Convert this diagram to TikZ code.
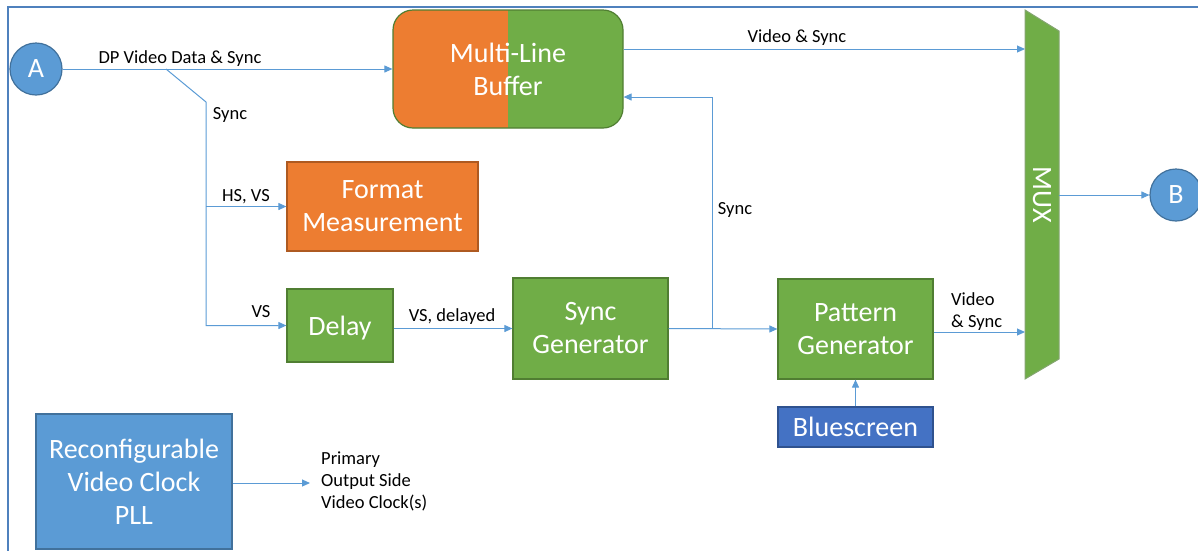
\documentclass[tikz,border=0pt]{standalone}
\usepackage{fontspec}
\setmainfont{Carlito}
\usetikzlibrary{arrows.meta}
\definecolor{cOra}{HTML}{ED7D31}
\definecolor{cOraD}{HTML}{AE5A21}
\definecolor{cGrn}{HTML}{70AD47}
\definecolor{cGrnD}{HTML}{507E32}
\definecolor{cBlu}{HTML}{5B9BD5}
\definecolor{cBluD}{HTML}{41719C}
\definecolor{cDBlu}{HTML}{4472C4}
\definecolor{cDBluD}{HTML}{2F528F}
\definecolor{cLine}{HTML}{5B9BD5}
\definecolor{cFrame}{HTML}{4F81BD}
\begin{document}
\begin{tikzpicture}[x=1pt,y=-1pt,
 big/.style={font=\fontsize{28}{33}\selectfont, text=white, align=center},
 box/.style={big, draw, line width=1.2pt, inner sep=0pt},
 gbox/.style={box, fill=cGrn, draw=cGrnD},
 obox/.style={box, fill=cOra, draw=cOraD},
 bbox/.style={box, fill=cBlu, draw=cBluD},
 dbbox/.style={box, fill=cDBlu, draw=cDBluD},
 circ/.style={big, circle, fill=cBlu, draw=cBluD, line width=1.2pt, minimum size=52pt, inner sep=0pt},
 lbl/.style={font=\fontsize{18.5}{22}\selectfont, text=black, inner sep=0pt},
 wire/.style={draw=cLine, line width=1pt},
 conn/.style={wire, -{Triangle[length=8pt,width=7pt]}},
]
\clip (0,0) rectangle (1198,550);
\draw[cFrame, line width=2.5pt] (8,7) rectangle (1260,600);

% nodes
\node[circ] (A) at (36,69) {A};
\node[circ] (B) at (1176,195) {B};
\node[box, draw=cGrnD, fill=cGrn, rounded corners=20pt, minimum width=230pt, minimum height=118pt,
  path picture={\fill[cOra, sharp corners] (path picture bounding box.north west) rectangle (path picture bounding box.south);}]
  (buf) at (508,69) {Multi-Line\\Buffer};
\node[obox, minimum width=191pt, minimum height=89pt] (fmt) at (382.5,206.5) {Format\\Measurement};
\node[gbox, minimum width=106pt, minimum height=73pt, text depth=0pt] (delay) at (340,325.5) {Delay};
\node[gbox, minimum width=155pt, minimum height=101pt] (sync) at (590.5,328.5) {Sync\\Generator};
\node[gbox, minimum width=155pt, minimum height=100pt] (pat) at (855.5,329) {Pattern\\Generator};
\node[dbbox, minimum width=155pt, minimum height=40pt] (blue) at (855.5,427) {Bluescreen};
\node[bbox, minimum width=196pt, minimum height=135pt] (pll) at (134,481.5) {Reconfigurable\\Video Clock\\PLL};

% MUX
\draw[fill=cGrn, draw=cGrnD!70, line width=1pt] (1025,10) -- (1059,31) -- (1059,359) -- (1025,379) -- cycle;
\node[big, rotate=-90, inner sep=0pt] (mux) at (1042,195) {MUX};
\coordinate (m1) at (1025,49);
\coordinate (m2) at (1025,332);
\coordinate (m3) at (1059,195);

% connectors
\coordinate (j1) at (166,69);
\coordinate (j2) at (206,102);
\draw[conn] (A) -- (buf.west);
\draw[conn] (j1) -- (j2) -- (j2 |- delay.west) -- (delay.west);
\draw[conn] (j2 |- fmt.west) -- (fmt.west);
\draw[conn] (delay.east |- sync.west) -- (sync.west);
\draw[conn] (sync.east) -- (pat.west);
\coordinate (j4) at (712,328.5);
\coordinate (j5) at (712,97);
\draw[conn] (j4) -- (j5) -- (j5 -| buf.east);
\draw[conn] (buf.east |- m1) -- (m1);
\draw[conn] (pat.east |- m2) -- (m2);
\draw[conn] (m3) -- (B);
\draw[conn] (blue.north) -- (pat.south);
\coordinate (pllout) at (310,483);
\draw[conn] (pll.east |- pllout) -- (pllout);

% labels
\node[lbl] (l1) at (180,59) {DP Video Data \& Sync};
\node[lbl] (l2) at (230,115) {Sync};
\node[lbl] (l3) at (246,197) {HS, VS};
\node[lbl] (l4) at (261,312) {VS};
\node[lbl] (l5) at (452,317) {VS, delayed};
\node[lbl] (l6) at (797,38) {Video \& Sync};
\node[lbl] (l7) at (735,210) {Sync};
\node[lbl, anchor=west, align=left] (l8) at (951,312) {Video\\\& Sync};
\node[lbl, anchor=west, align=left] (l9) at (321,481) {Primary\\Output Side\\Video Clock(s)};
\end{tikzpicture}
\end{document}
